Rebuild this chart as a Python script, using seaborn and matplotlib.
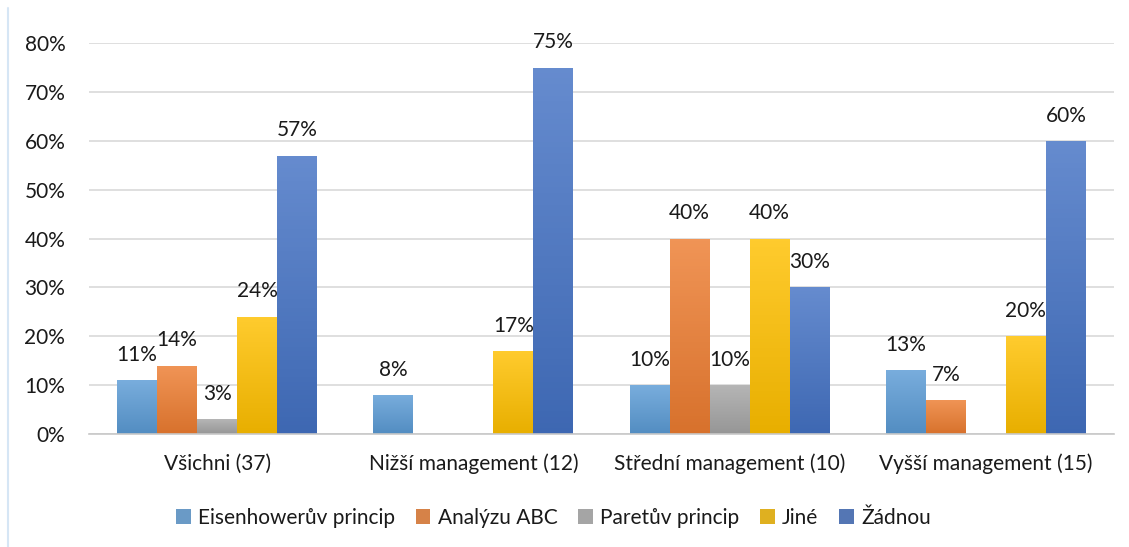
import pandas as pd
import numpy as np
import matplotlib.pyplot as plt
import matplotlib.colors as mcolors
from matplotlib.lines import Line2D
import seaborn as sns

groups = ["Všichni (37)", "Nižší management (12)", "Střední management (10)", "Vyšší management (15)"]
series = ["Eisenhowerův princip", "Analýzu ABC", "Paretův princip", "Jiné", "Žádnou"]
eisenhower = [11, 8, 10, 13]
abc = [14, 0, 40, 7]
pareto = [3, 0, 10, 0]
jine = [24, 17, 40, 20]
zadnou = [57, 75, 30, 60]
colors = ["#5b9bd5", "#ed7d31", "#a5a5a5", "#ffc000", "#4472c4"]

rows = []
for name, vals in zip(series, [eisenhower, abc, pareto, jine, zadnou]):
    for g, v in zip(groups, vals):
        rows.append({"skupina": g, "metoda": name, "podil": v / 100})
df = pd.DataFrame(rows)

sns.set_theme(style="white")
plt.rcParams["font.family"] = ["Lato", "DejaVu Sans"]
TXT = "#1a1a1a"

fig = plt.figure(figsize=(11.29, 5.47), dpi=100)
ax = fig.add_axes([0.0788, 0.2066, 0.908, 0.7144])

sns.barplot(data=df, x="skupina", y="podil", hue="metoda", order=groups,
            hue_order=series, palette=colors, width=0.78, gap=0,
            linewidth=0, ax=ax)


def shade(c, f):
    r = np.array(mcolors.to_rgb(c))
    if f > 0:
        return r + (1 - r) * f
    return r * (1 + f)


# excel-like vertical gradient on each bar
for cont, c in zip(ax.containers, colors):
    top = shade(c, 0.18)
    bot = shade(c, -0.09)
    grad = np.linspace(0, 1, 64)[:, None, None]
    img = top * (1 - grad) + bot * grad
    for p in cont:
        if p.get_height() <= 0:
            continue
        x0, y0 = p.get_x(), p.get_y()
        im = ax.imshow(img, extent=[x0, x0 + p.get_width(), y0, y0 + p.get_height()],
                       aspect="auto", origin="upper", zorder=p.get_zorder() + 0.1)
        im.set_clip_path(p)

for cont in ax.containers:
    labels = [f"{p.get_height() * 100:.0f}%" if p.get_height() > 0 else "" for p in cont]
    ax.bar_label(cont, labels=labels, padding=11, fontsize=15, color=TXT)

ax.set_xlim(-0.5, 3.5)
ax.set_ylim(0, 0.8)
ax.set_yticks(np.arange(0, 0.81, 0.1))
ax.set_yticklabels([f"{v}%" for v in range(0, 81, 10)])
ax.yaxis.grid(True, color="#d9d9d9", linewidth=1.2)
ax.set_axisbelow(True)
for s in ["top", "right", "left"]:
    ax.spines[s].set_visible(False)
ax.spines["bottom"].set_color("#c8c8c8")
ax.spines["bottom"].set_linewidth(1.2)
ax.tick_params(axis="both", length=0, labelsize=15, labelcolor=TXT)
ax.tick_params(axis="y", pad=17)
ax.tick_params(axis="x", pad=14)
ax.set_xlabel("")
ax.set_ylabel("")

ax.legend(loc="center", bbox_to_anchor=(0.453, -0.215), ncol=5, frameon=False,
          handlelength=0.7, handleheight=0.7, handletextpad=0.35, columnspacing=1.0,
          fontsize=15, labelcolor=TXT)

# light frame line at the left edge of the chart area
fig.add_artist(Line2D([8 / 1129, 8 / 1129], [0, 0.985], color="#d6e6f5", linewidth=1.5))

plt.savefig("out.png", dpi=100)
